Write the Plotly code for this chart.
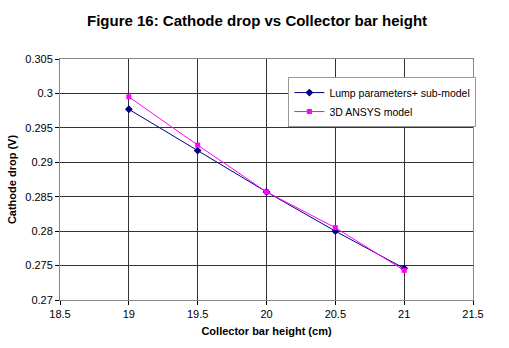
import plotly.graph_objects as go

# Collector bar height (cm)
heights = [19, 19.5, 20, 20.5, 21]
# Cathode drop (V) for each model
lump_submodel = [0.2977, 0.2917, 0.2857, 0.2800, 0.2746]
ansys_3d = [0.2995, 0.2925, 0.2857, 0.2805, 0.2743]

x_ticks = [18.5, 19, 19.5, 20, 20.5, 21, 21.5]
y_ticks = [0.27, 0.275, 0.28, 0.285, 0.29, 0.295, 0.3, 0.305]
y_tick_text = ["0.27", "0.275", "0.28", "0.285", "0.29", "0.295", "0.3", "0.305"]

font = "Liberation Sans, Arial, sans-serif"

fig = go.Figure()
fig.add_trace(go.Scatter(
    x=heights, y=lump_submodel, mode="lines+markers",
    name="Lump parameters+ sub-model",
    line=dict(color="#000080", width=1),
    marker=dict(symbol="diamond", size=6, color="#000080"),
))
fig.add_trace(go.Scatter(
    x=heights, y=ansys_3d, mode="lines+markers",
    name="3D ANSYS model",
    line=dict(color="#FF00FF", width=1),
    marker=dict(symbol="square", size=5, color="#FF00FF"),
))

fig.update_layout(
    width=509, height=348,
    margin=dict(l=59, r=36, t=59, b=46),
    paper_bgcolor="white", plot_bgcolor="white",
    font=dict(family=font, size=11, color="black"),
    title=dict(
        text="<b>Figure 16: Cathode drop vs Collector bar height</b>",
        x=0.505, xanchor="center", y=0.94, yanchor="middle",
        font=dict(family=font, size=15, color="black"),
    ),
    showlegend=True,
    legend=dict(
        x=0.553, y=0.925, xanchor="left", yanchor="top",
        bgcolor="white", bordercolor="#999999", borderwidth=1,
        font=dict(family=font, size=10.5, color="black"),
        tracegroupgap=0, itemwidth=30,
    ),
)

fig.update_xaxes(
    range=[18.5, 21.5], tickvals=x_ticks,
    ticktext=[str(v) for v in x_ticks],
    showgrid=True, gridcolor="#333333", gridwidth=1,
    showline=True, linecolor="#888888", mirror=True,
    ticks="outside", ticklen=4, tickcolor="black",
    zeroline=False,
    title=dict(text="<b>Collector bar height (cm)</b>", standoff=8,
               font=dict(family=font, size=11)),
)
fig.update_yaxes(
    range=[0.27, 0.305], tickvals=y_ticks, ticktext=y_tick_text,
    showgrid=True, gridcolor="#333333", gridwidth=1,
    showline=True, linecolor="#888888", mirror=True,
    ticks="outside", ticklen=4, tickcolor="black",
    zeroline=False,
    title=dict(text="<b>Cathode drop (V)</b>", standoff=6,
               font=dict(family=font, size=11)),
)

fig.write_html("out.html")
